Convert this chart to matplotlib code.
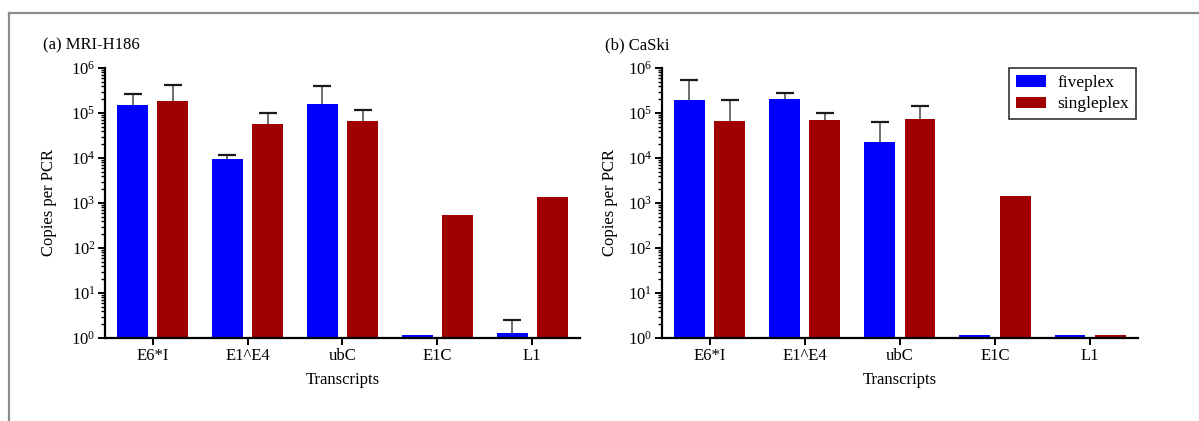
import matplotlib
matplotlib.use("Agg")
import matplotlib.pyplot as plt
import numpy as np
from matplotlib.lines import Line2D
from matplotlib.patches import Rectangle
from matplotlib.legend_handler import HandlerPatch
from matplotlib.ticker import LogLocator

plt.rcParams['font.family'] = ['Liberation Serif', 'DejaVu Serif']
plt.rcParams['mathtext.fontset'] = 'custom'
plt.rcParams['mathtext.rm'] = 'Liberation Serif'
plt.rcParams['mathtext.it'] = 'Liberation Serif:italic'

categories = ["E6*I", "E1^E4", "ubC", "E1C", "L1"]
series_names = ["fiveplex", "singleplex"]

# Panel (a) MRI-H186
a_five = [1.5e5, 9.3e3, 1.58e5, 1.19, 1.31]
a_five_err_top = [2.6e5, 1.18e4, 4.0e5, None, 2.46]
a_single = [1.83e5, 5.67e4, 6.6e4, 540, 1360]
a_single_err_top = [4.2e5, 1.0e5, 1.14e5, None, None]

# Panel (b) CaSki
b_five = [1.9e5, 2.03e5, 2.24e4, 1.19, 1.19]
b_five_err_top = [5.3e5, 2.8e5, 6.3e4, None, None]
b_single = [6.6e4, 6.9e4, 7.3e4, 1440, 1.19]
b_single_err_top = [1.9e5, 9.8e4, 1.45e5, None, None]

titles = ["(a) MRI-H186", "(b) CaSki"]
colors = ["#0000FF", "#A00000"]

W, H = 1199, 421
fig = plt.figure(figsize=(W / 100, H / 100), dpi=100)

axes_px = [(105.2, 579.7), (662, 1137.7)]
top_px, bot_px = 68, 338
ylabel_off = [-0.101, -0.0925]
title_x = [43, 605]

panels = [
    ((a_five, a_five_err_top), (a_single, a_single_err_top)),
    ((b_five, b_five_err_top), (b_single, b_single_err_top)),
]

width = 0.324
offsets = [-0.212, 0.212]
x = np.arange(len(categories))


def inset_rect(legend, orig_handle, xdescent, ydescent, width, height, fontsize):
    off = 5.8
    return Rectangle((-xdescent + off, -ydescent), width - off, height)


for i, ((l, r), series) in enumerate(zip(axes_px, panels)):
    ax = fig.add_axes([l / W, 1 - bot_px / H, (r - l) / W, (bot_px - top_px) / H])
    for j, (vals, errtop) in enumerate(series):
        ax.bar(x + offsets[j], vals, width, color=colors[j], label=series_names[j],
               zorder=2)
        for k, (v, e) in enumerate(zip(vals, errtop)):
            if e is not None:
                xp = x[k] + offsets[j]
                ax.vlines(xp, v, e, colors='#555555', linewidth=1.2, zorder=1)
                ax.plot([xp], [e], marker='_', markersize=13.5, markeredgewidth=1.6,
                        color='#1a1a1a', zorder=3)
    ax.set_yscale('log')
    ax.set_ylim(1, 1e6)
    ax.set_xlim(-0.5, len(categories) - 0.5)
    ax.yaxis.set_major_locator(LogLocator(base=10, numticks=10))
    ax.yaxis.set_minor_locator(LogLocator(base=10, subs=np.arange(2, 10), numticks=100))
    ax.set_xticks(x)
    ax.set_xticklabels(categories, fontsize=12)
    for s in ['top', 'right']:
        ax.spines[s].set_visible(False)
    for s in ['left', 'bottom']:
        ax.spines[s].set_linewidth(1.6)
    ax.tick_params(axis='both', which='major', direction='out', length=5, width=1.4,
                   labelsize=12, pad=2)
    ax.tick_params(axis='y', which='minor', direction='out', length=3, width=1.0)
    ax.set_xlabel("Transcripts", fontsize=12, labelpad=6)
    ax.set_ylabel("Copies per PCR", fontsize=12)
    ax.yaxis.set_label_coords(ylabel_off[i], 0.5)
    fig.text(title_x[i] / W, 1 - 45 / H, titles[i], fontsize=12, ha='left', va='center')
    if i == 1:
        leg = ax.legend(loc='upper right', bbox_to_anchor=(0.997, 1.0), fontsize=12.5,
                        frameon=True, fancybox=False, edgecolor='black',
                        borderaxespad=0.0, handlelength=1.74, handleheight=0.64,
                        handletextpad=0.66, labelspacing=0.32, borderpad=0.4,
                        handler_map={Rectangle: HandlerPatch(patch_func=inset_rect)})
        leg.get_frame().set_linewidth(1.2)

# outer border (top and left)
fig.add_artist(Line2D([8.5 / W, 1.0], [1 - 13 / H, 1 - 13 / H], color='#8c8c8c', lw=1.6,
                      transform=fig.transFigure))
fig.add_artist(Line2D([8.5 / W, 8.5 / W], [0, 1 - 13 / H], color='#8c8c8c', lw=1.6,
                      transform=fig.transFigure))

fig.savefig("out.png", dpi=100, facecolor='white')
